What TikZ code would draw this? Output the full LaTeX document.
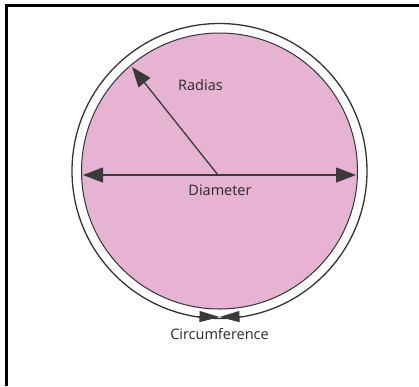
\documentclass[tikz,border=0pt]{standalone}
\usepackage{fontspec}
\setmainfont{Open Sans}
\usepackage{tikz}
\usetikzlibrary{arrows.meta}
\usetikzlibrary{positioning}

\definecolor{discpink}{HTML}{E7B3D3}
\definecolor{inkgray}{HTML}{3A3A3A}
\definecolor{textgray}{HTML}{2A2A2A}
\tikzset{
  dimarrow/.style={inkgray, line width=1.3pt, -{Triangle[length=20pt,width=15pt]}},
  circarrow/.style={inkgray, line width=1pt, -{Triangle[length=20pt,width=11pt]}},
  partlabel/.style={text=textgray, inner sep=1pt, font=\fontsize{14.5}{16}\selectfont}
}

\begin{document}
\begin{tikzpicture}[x=1pt,y=-1pt]
\useasboundingbox (0,0) rectangle (419,386);
% frame, top and left only
\draw[line width=2.5pt] (6.5,386) -- (6.5,5.5) -- (419,5.5);
% disc with its rim
\coordinate (c) at (219.5,171);
\draw[line width=1.3pt, black!80] (c) circle (147.5pt);
\draw[line width=1pt, black!80, fill=discpink] (c) circle (138pt);
% diameter and radius
\coordinate (dl) at (83,175);
\coordinate (dr) at (356,175);
\coordinate (o) at (218,175);
\coordinate (rt) at (132,67);
\draw[dimarrow] (o) -- (dl);
\draw[dimarrow] (o) -- (dr);
\draw[dimarrow] (o) -- (rt);
% circumference marks
\coordinate (cb) at (219.5,317);
\coordinate (cl) at (197,316.5);
\coordinate (cr) at (242,316.5);
\draw[circarrow] (cl) -- (cb);
\draw[circarrow] (cr) -- (cb);
% labels
\node[partlabel] (radlabel) at (200.5,85) {Radias};
\node[partlabel] (diamlabel) at (220,190) {Diameter};
\node[partlabel] (circlabel) at (219.5,334) {Circumference};
\end{tikzpicture}
\end{document}
